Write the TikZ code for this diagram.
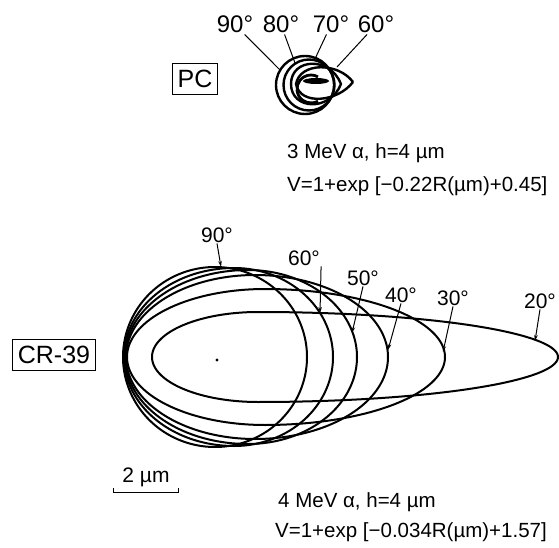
\documentclass[tikz,border=0pt]{standalone}
\usepackage{fontspec}
\setmainfont{Liberation Sans}
\usetikzlibrary{arrows.meta, positioning}

% etch pit contour: centre x, centre y, left half-axis, right half-axis, half-height
\newcommand{\etchpit}[5]{%
  \draw[pit] plot[variable=\t, domain=0:360, samples=181]
    ({#1+(cos(\t)>0 ? #4 : #3)*cos(\t)}, {#2+#5*sin(\t)}) -- cycle;}

\begin{document}
\begin{tikzpicture}[x=1pt, y=-1pt, >={Stealth[length=6pt, width=3.5pt]},
  pit/.style={line width=2pt, line join=round},
  pcpit/.style={line width=2.4pt, line join=round},
  lbl/.style={font=\fontsize{21}{25}\selectfont, inner sep=1pt, anchor=base},
  pclbl/.style={font=\fontsize{24}{28}\selectfont, inner sep=1pt, anchor=base},
  txt/.style={font=\fontsize{20.5}{24}\selectfont, inner sep=0pt, anchor=base west},
  mat/.style={draw, line width=1.1pt, font=\fontsize{25}{30}\selectfont, inner xsep=5pt, inner ysep=7pt},
  lead/.style={line width=1pt}]
\useasboundingbox (0,0) rectangle (559,548);

% PC
\node[mat] (pc) at (195,79) {PC};
\draw[pcpit] (305,85) circle (29);
\draw[pcpit] (309,85) circle (25.5);
\draw[pcpit] (291,84) .. controls (291,58) and (330,56) .. (341,84) .. controls (330,112) and (291,110) .. (291,84);
\draw[pcpit] (353,82) .. controls (338,62) and (300,62) .. (296,84) .. controls (300,106) and (338,102) .. (353,82);
\draw[line width=2.8pt] ([shift={(60:14)}]311,89) arc[start angle=60, end angle=300, radius=14];
\fill (316,81) ellipse[x radius=13, y radius=3];
\node[pclbl] (lp90) at (235,33) {90°};
\node[pclbl] (lp80) at (281,33) {80°};
\node[pclbl] (lp70) at (331,33) {70°};
\node[pclbl] (lp60) at (376,33) {60°};
\coordinate (p90) at (280,70);
\coordinate (p80) at (295,63);
\coordinate (p70) at (314,61);
\coordinate (p60) at (337,67);
\draw[lead] (lp90) -- (p90);
\draw[lead] (lp80) -- (p80);
\draw[lead] (lp70) -- (p70);
\draw[lead] (lp60) -- (p60);
\node[txt] (pcA) at (287,159) {3 MeV α, h=4 µm};
\node[txt] (pcB) at (287,191) {V=1+exp [−0.22R(µm)+0.45]};

% CR-39
\node[mat] (cr) at (54,355) {CR-39};
\etchpit{215}{357}{92}{92}{90}
\etchpit{234}{357}{110}{99}{89}
\etchpit{248}{357}{123}{109}{87}
\etchpit{255}{357}{129}{133}{82}
\etchpit{265}{357}{138}{180}{68}
\etchpit{258}{357}{106}{300}{45}
\fill (217,360) circle (1.6);
\node[lbl] (c90) at (217,242) {90°};
\node[lbl] (c60) at (304,265) {60°};
\node[lbl] (c50) at (363,285) {50°};
\node[lbl] (c40) at (401,302) {40°};
\node[lbl] (c30) at (453,305) {30°};
\node[lbl] (c20) at (540,308) {20°};
\coordinate (a90) at (221,267);
\coordinate (a60) at (320,313);
\coordinate (a50) at (352,333);
\coordinate (a40) at (388,350);
\coordinate (a30) at (443,352);
\coordinate (a20) at (535,341);
\draw[lead, ->] (c90.south) -- (a90);
\draw[lead, ->] (c60.south east) -- (a60);
\draw[lead, ->] (c50.south) -- (a50);
\draw[lead, ->] (c40.south) -- (a40);
\draw[lead, ->] (c30.south) -- (a30);
\draw[lead, ->] (c20.south) -- (a20);

% scale bar
\node[font=\fontsize{21}{25}\selectfont, inner sep=1pt, anchor=base] (sb) at (146,482) {2 µm};
\draw[line width=1pt] (113,488) -- (113,492) -- (178,492) -- (178,488);
\node[txt] (crA) at (278,507) {4 MeV α, h=4 µm};
\node[txt] (crB) at (275,537) {V=1+exp [−0.034R(µm)+1.57]};
\end{tikzpicture}
\end{document}
